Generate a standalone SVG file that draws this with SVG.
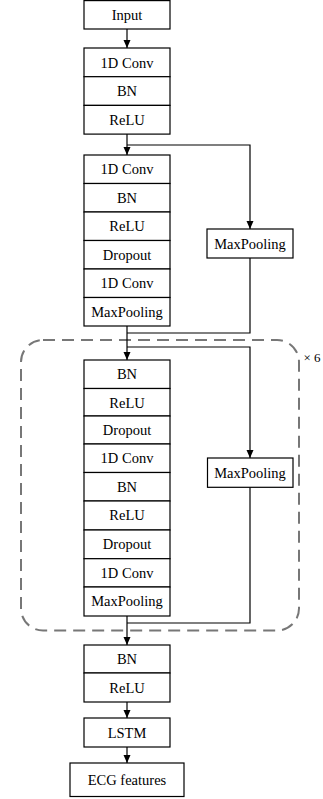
<svg xmlns="http://www.w3.org/2000/svg" width="323" height="799" viewBox="0 0 323 799" font-family="'Liberation Serif', 'Times New Roman', Times, serif">
<style>
.b{fill:#fff;stroke:#000;stroke-width:1.2}
.t{font-family:'Liberation Serif','Times New Roman',Times,serif;font-size:14.5px;text-anchor:middle;fill:#000}
.c{fill:none;stroke:#000;stroke-width:1.2}
.d{fill:none;stroke:#777;stroke-width:2;stroke-dasharray:12 7}
</style>
<defs>
<marker id="a" viewBox="0 0 8 8" refX="8" refY="4" markerWidth="8" markerHeight="8" markerUnits="userSpaceOnUse" orient="auto">
<path d="M0,0.5 L8,4 L0,7.5 z" fill="#000"/>
</marker>
</defs>
<rect class="d" x="21" y="340" width="278" height="290.5" rx="22" ry="22"/>
<text class="t" x="312" y="362" style="font-size:13px">× 6</text>
<g id="connectors">
<path class="c" d="M127,29 V48" marker-end="url(#a)"/>
<path class="c" d="M127,134 V155" marker-end="url(#a)"/>
<path class="c" d="M127,145 H250 V229" marker-end="url(#a)"/>
<path class="c" d="M250,258 V333 H127"/>
<path class="c" d="M127,326 V360" marker-end="url(#a)"/>
<path class="c" d="M127,347 H250 V458" marker-end="url(#a)"/>
<path class="c" d="M250,487 V623 H127"/>
<path class="c" d="M127,616 V645" marker-end="url(#a)"/>
<path class="c" d="M127,702 V718" marker-end="url(#a)"/>
<path class="c" d="M127,747 V763" marker-end="url(#a)"/>
</g>
<g id="input"><rect class="b" x="84" y="0.6" width="86" height="28.4"/><text class="t" x="127" y="19.5">Input</text></g>
<g id="block1">
<rect class="b" x="84" y="48" width="86" height="28.7"/><text class="t" x="127" y="67.5">1D Conv</text>
<rect class="b" x="84" y="76.7" width="86" height="28.7"/><text class="t" x="127" y="96">BN</text>
<rect class="b" x="84" y="105.4" width="86" height="28.7"/><text class="t" x="127" y="125">ReLU</text>
</g>
<g id="block2">
<rect class="b" x="84" y="155" width="86" height="28.5"/><text class="t" x="127" y="174">1D Conv</text>
<rect class="b" x="84" y="183.5" width="86" height="28.5"/><text class="t" x="127" y="203">BN</text>
<rect class="b" x="84" y="212" width="86" height="28.5"/><text class="t" x="127" y="231">ReLU</text>
<rect class="b" x="84" y="240.5" width="86" height="28.5"/><text class="t" x="127" y="260">Dropout</text>
<rect class="b" x="84" y="269" width="86" height="28.5"/><text class="t" x="127" y="288">1D Conv</text>
<rect class="b" x="84" y="297.5" width="86" height="28.5"/><text class="t" x="127" y="317">MaxPooling</text>
</g>
<g id="side1"><rect class="b" x="207" y="229" width="86" height="29"/><text class="t" x="250" y="248.5">MaxPooling</text></g>
<g id="block3">
<rect class="b" x="84" y="360" width="86" height="28.5"/><text class="t" x="127" y="379">BN</text>
<rect class="b" x="84" y="388.5" width="86" height="27.5"/><text class="t" x="127" y="407.5">ReLU</text>
<rect class="b" x="84" y="416" width="86" height="28"/><text class="t" x="127" y="435">Dropout</text>
<rect class="b" x="84" y="444" width="86" height="28.5"/><text class="t" x="127" y="463">1D Conv</text>
<rect class="b" x="84" y="472.5" width="86" height="28.5"/><text class="t" x="127" y="491.5">BN</text>
<rect class="b" x="84" y="501" width="86" height="29"/><text class="t" x="127" y="520">ReLU</text>
<rect class="b" x="84" y="530" width="86" height="28.7"/><text class="t" x="127" y="549">Dropout</text>
<rect class="b" x="84" y="558.7" width="86" height="28.3"/><text class="t" x="127" y="577.5">1D Conv</text>
<rect class="b" x="84" y="587" width="86" height="29"/><text class="t" x="127" y="606">MaxPooling</text>
</g>
<g id="side2"><rect class="b" x="207.5" y="458" width="85.5" height="29.3"/><text class="t" x="250" y="477.5">MaxPooling</text></g>
<g id="block4">
<rect class="b" x="84" y="645" width="86" height="28"/><text class="t" x="127" y="664">BN</text>
<rect class="b" x="84" y="673" width="86" height="29"/><text class="t" x="127" y="692.5">ReLU</text>
</g>
<g id="lstm"><rect class="b" x="84" y="718" width="86" height="29"/><text class="t" x="127" y="737.5">LSTM</text></g>
<g id="ecg"><rect class="b" x="70" y="763" width="114" height="33.5"/><text class="t" x="127" y="785">ECG features</text></g>
</svg>
